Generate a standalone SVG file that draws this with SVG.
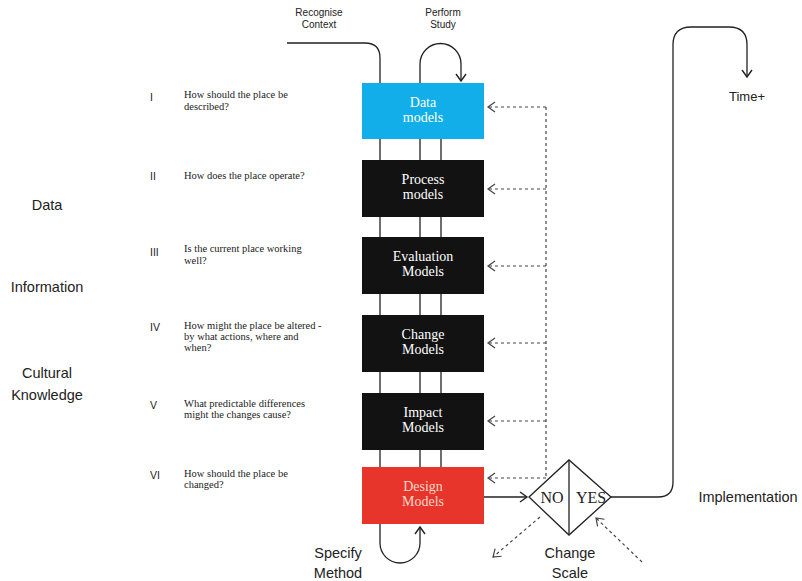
<svg xmlns="http://www.w3.org/2000/svg" width="802" height="581" viewBox="0 0 802 581">
<style>
.sans{font-family:"Liberation Sans",Arial,sans-serif;fill:#222}
.serif{font-family:"Liberation Serif","Times New Roman",serif;fill:#222}
.q{font-size:10.5px}
.num{font-size:10.5px}
.lab{font-size:14.5px}
.small{font-size:10px}
.box-t{font-family:"Liberation Serif","Times New Roman",serif;font-size:14px;fill:#fff;text-anchor:middle}
.ln{fill:none;stroke:#222;stroke-width:1.3}
.dash{fill:none;stroke:#444;stroke-width:1.2;stroke-dasharray:3,3}
</style>
<defs>
<marker id="arr" markerUnits="userSpaceOnUse" markerWidth="14" markerHeight="14" refX="9" refY="6" orient="auto">
<path d="M2,1 L9,6 L2,11" fill="none" stroke="#222" stroke-width="1.4"/>
</marker>
<marker id="darr" markerUnits="userSpaceOnUse" markerWidth="14" markerHeight="14" refX="9" refY="6" orient="auto">
<path d="M2,1 L9,6 L2,11" fill="none" stroke="#444" stroke-width="1.2"/>
</marker>
</defs>
<rect width="802" height="581" fill="#fff"/>

<g id="levels">
<text class="sans lab" x="47" y="210" text-anchor="middle">Data</text>
<text class="sans lab" x="47" y="292" text-anchor="middle">Information</text>
<text class="sans lab" x="47" y="378" text-anchor="middle">Cultural</text>
<text class="sans lab" x="47" y="400" text-anchor="middle">Knowledge</text>
</g>

<g id="questions">
<text class="sans num" x="150" y="101">I</text>
<text class="serif q" x="184" y="98">How should the place be</text>
<text class="serif q" x="184" y="110">described?</text>
<text class="sans num" x="150" y="180">II</text>
<text class="serif q" x="184" y="179">How does the place operate?</text>
<text class="sans num" x="150" y="256">III</text>
<text class="serif q" x="184" y="252">Is the current place working</text>
<text class="serif q" x="184" y="264">well?</text>
<text class="sans num" x="150" y="331">IV</text>
<text class="serif q" x="184" y="329">How might the place be altered -</text>
<text class="serif q" x="184" y="340">by what actions, where and</text>
<text class="serif q" x="184" y="351">when?</text>
<text class="sans num" x="150" y="409">V</text>
<text class="serif q" x="184" y="407">What predictable differences</text>
<text class="serif q" x="184" y="418">might the changes cause?</text>
<text class="sans num" x="150" y="479">VI</text>
<text class="serif q" x="184" y="477">How should the place be</text>
<text class="serif q" x="184" y="488">changed?</text>
</g>

<text class="sans small" x="319" y="16" text-anchor="middle">Recognise</text>
<text class="sans small" x="319" y="28" text-anchor="middle">Context</text>
<text class="sans small" x="443" y="16" text-anchor="middle">Perform</text>
<text class="sans small" x="443" y="28" text-anchor="middle">Study</text>

<g id="connectors">
<path class="ln" d="M287,43 H365 Q380,43 380,58 V83"/>
<path class="ln" d="M420,83 V64 A20.5,20.5 0 0 1 461,64 V81" marker-end="url(#arr)"/>
<path class="ln" d="M380,139 V160 M420,139 V160 M441,139 V160 M380,217 V237 M420,217 V237 M441,217 V237 M380,294 V315 M420,294 V315 M441,294 V315 M380,372 V393 M420,372 V393 M441,372 V393 M380,450 V467 M420,450 V467 M441,450 V467"/>
<path class="ln" d="M380,524 V543 A20,20 0 0 0 420,543 V527" marker-end="url(#arr)"/>
<path class="ln" d="M484,497 H527" marker-end="url(#arr)"/>
<path class="ln" d="M611,497 H658 Q673,497 673,482 V45 Q673,27 691,27 H729 Q747,27 747,45 V77" marker-end="url(#arr)"/>
<path class="dash" d="M546,107 V478"/>
<path class="dash" d="M546,107 H488" marker-end="url(#darr)"/>
<path class="dash" d="M546,189 H488" marker-end="url(#darr)"/>
<path class="dash" d="M546,266 H488" marker-end="url(#darr)"/>
<path class="dash" d="M546,343 H488" marker-end="url(#darr)"/>
<path class="dash" d="M546,421 H488" marker-end="url(#darr)"/>
<path class="dash" d="M546,478 H488" marker-end="url(#darr)"/>
<path class="dash" d="M540,517 L493,557" marker-end="url(#darr)"/>
<path class="dash" d="M642,562 L596,518" marker-end="url(#darr)"/>
</g>

<g id="n1"><rect x="362" y="83" width="122" height="56" fill="#12aee9"/>
<text class="box-t" x="423" y="107">Data</text><text class="box-t" x="423" y="122">models</text></g>
<g id="n2"><rect x="362" y="160" width="122" height="57" fill="#121212"/>
<text class="box-t" x="423" y="184">Process</text><text class="box-t" x="423" y="199">models</text></g>
<g id="n3"><rect x="362" y="237" width="122" height="57" fill="#121212"/>
<text class="box-t" x="423" y="261">Evaluation</text><text class="box-t" x="423" y="276">Models</text></g>
<g id="n4"><rect x="362" y="315" width="122" height="57" fill="#121212"/>
<text class="box-t" x="423" y="339">Change</text><text class="box-t" x="423" y="354">Models</text></g>
<g id="n5"><rect x="362" y="393" width="122" height="57" fill="#121212"/>
<text class="box-t" x="423" y="417">Impact</text><text class="box-t" x="423" y="432">Models</text></g>
<g id="n6"><rect x="362" y="467" width="122" height="57" fill="#e8352b"/>
<text class="box-t" x="423" y="491" style="fill:#f8d8c8">Design</text><text class="box-t" x="423" y="506" style="fill:#f8d8c8">Models</text></g>

<g id="decision">
<polygon points="529,497 569,460 611,497 569,535" fill="#fff" stroke="#222" stroke-width="1.3"/>
<line x1="569" y1="460" x2="569" y2="535" stroke="#222" stroke-width="1.3"/>
<text class="serif" x="552" y="503" font-size="16" text-anchor="middle">NO</text>
<text class="serif" x="591" y="503" font-size="16" text-anchor="middle">YES</text>
</g>

<text class="sans lab" x="338" y="558" text-anchor="middle">Specify</text>
<text class="sans lab" x="338" y="578" text-anchor="middle">Method</text>
<text class="sans lab" x="570" y="558" text-anchor="middle">Change</text>
<text class="sans lab" x="570" y="578" text-anchor="middle">Scale</text>
<text class="sans" x="747" y="101" font-size="13" text-anchor="middle">Time+</text>
<text class="sans" x="748" y="502" font-size="14.5" text-anchor="middle">Implementation</text>
</svg>
